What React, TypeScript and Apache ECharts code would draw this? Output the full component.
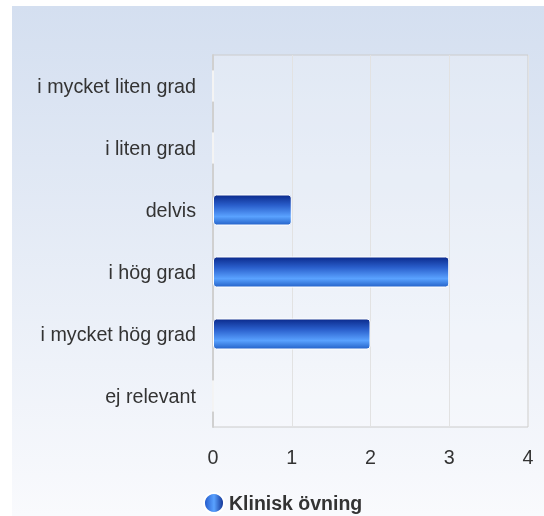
import React, { useEffect, useRef } from "react";
import * as echarts from "echarts";

const categories = [
  "i mycket liten grad",
  "i liten grad",
  "delvis",
  "i hög grad",
  "i mycket hög grad",
  "ej relevant",
];
const seriesName = "Klinisk övning";
const values = [0, 0, 1, 3, 2, 0];
const xTicks = [0, 1, 2, 3, 4];

export default function App() {
  const ref = useRef<HTMLDivElement>(null);
  useEffect(() => {
    if (!ref.current) return;
    const chart = echarts.init(ref.current, undefined, { renderer: "svg" });
    const barGrad = new echarts.graphic.LinearGradient(0, 0, 0, 1, [
      { offset: 0, color: "#0b2a8c" },
      { offset: 0.35, color: "#2a5fcc" },
      { offset: 0.72, color: "#5aa2ff" },
      { offset: 1, color: "#2462c8" },
    ]);
    const legendGrad = new echarts.graphic.LinearGradient(0, 0, 1, 0, [
      { offset: 0, color: "#1f55c8" },
      { offset: 0.5, color: "#5aa2ff" },
      { offset: 1, color: "#0b2a8c" },
    ]);
    const font = "Liberation Sans, Arial, sans-serif";
    chart.setOption({
      animation: false,
      graphic: [
        {
          type: "rect",
          z: -10,
          silent: true,
          shape: { x: 12, y: 6, width: 532, height: 510 },
          style: {
            fill: new echarts.graphic.LinearGradient(0, 0, 0, 1, [
              { offset: 0, color: "#d4dff0" },
              { offset: 1, color: "#f9fafd" },
            ]),
          },
        },
      ],
      grid: {
        left: 213,
        top: 55,
        width: 315,
        height: 372,
        show: true,
        borderColor: "#cccccc",
        borderWidth: 1,
        backgroundColor: "rgba(255,255,255,0.25)",
      },
      xAxis: {
        type: "value",
        min: xTicks[0],
        max: xTicks[xTicks.length - 1],
        interval: 1,
        axisLine: { show: false },
        axisTick: { show: false },
        axisLabel: {
          color: "#333",
          fontSize: 19.7,
          fontFamily: font,
          margin: 20,
        },
        splitLine: { show: true, lineStyle: { color: "#e2e2e2", width: 1 } },
      },
      yAxis: {
        type: "category",
        inverse: true,
        data: categories,
        axisLine: { show: true, lineStyle: { color: "#d0d0d0", width: 2 } },
        axisTick: { show: false },
        axisLabel: {
          color: "#333",
          fontSize: 19.7,
          fontFamily: font,
          margin: 17,
        },
      },
      legend: {
        top: 487,
        left: 198,
        itemWidth: 20,
        itemHeight: 20,
        icon: "circle",
        itemGap: 6,
        textStyle: {
          color: "#333",
          fontSize: 19.5,
          fontWeight: "bold",
          fontFamily: font,
        },
        data: [{ name: seriesName, itemStyle: { color: legendGrad } }],
      },
      series: [
        {
          name: seriesName,
          type: "bar",
          data: values,
          barWidth: 31,
          itemStyle: {
            color: barGrad,
            borderColor: "#ffffff",
            borderWidth: 1,
            borderRadius: 3,
          },
        },
      ],
    });
    return () => chart.dispose();
  }, []);
  return (
    <div
      ref={ref}
      style={{ position: "fixed", left: 0, top: 0, width: 544, height: 516 }}
    />
  );
}
